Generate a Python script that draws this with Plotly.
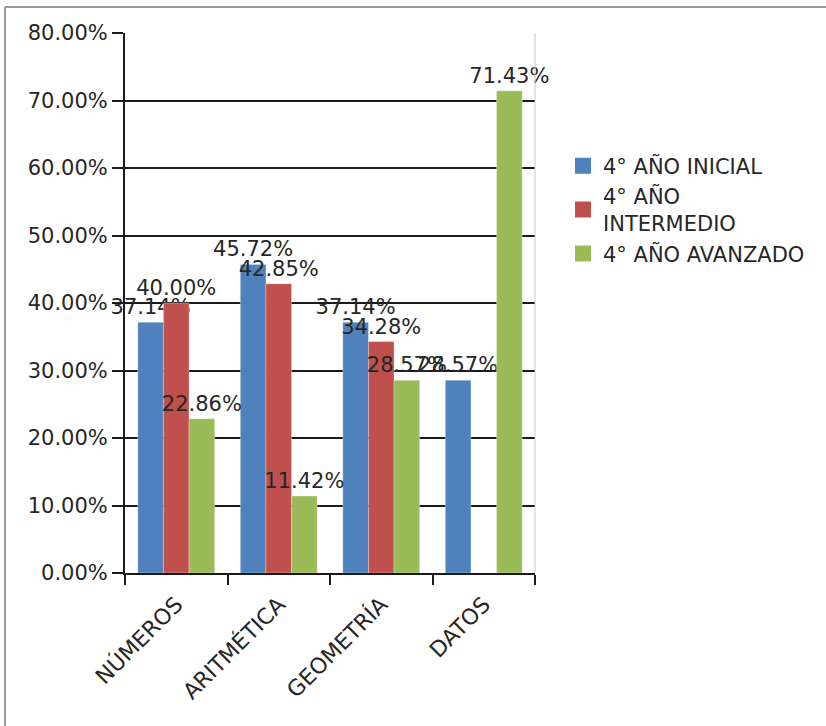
import plotly.graph_objects as go

categories = ["NÚMEROS", "ARITMÉTICA", "GEOMETRÍA", "DATOS"]
series_names = ["4° AÑO INICIAL", "4° AÑO<br>INTERMEDIO", "4° AÑO AVANZADO"]
inicial = [0.3714, 0.4572, 0.3714, 0.2857]
intermedio = [0.4000, 0.4285, 0.3428, None]
avanzado = [0.2286, 0.1142, 0.2857, 0.7143]
colors = ["#4F81BD", "#C0504D", "#9BBB59"]
y_ticks = [0, 0.1, 0.2, 0.3, 0.4, 0.5, 0.6, 0.7, 0.8]

W, H = 826, 726
L, R, T, B = 125, 535, 33, 573

FONT = "DejaVu Sans"
TXT = "#262626"

fig = go.Figure()
for name, vals, col in zip(series_names, [inicial, intermedio, avanzado], colors):
    fig.add_trace(go.Bar(
        x=categories, y=vals, name=name, showlegend=False,
        marker=dict(color=col, line=dict(color="rgba(255,255,255,0.6)", width=0.5)),
        texttemplate="%{y:.2%}", textposition="outside",
        constraintext="none", cliponaxis=False,
        textfont=dict(family=FONT, size=21, color=TXT),
    ))
# legend entries with larger square swatches
for name, col in zip(series_names, colors):
    fig.add_trace(go.Scatter(
        x=[None], y=[None], mode="markers", name=name,
        marker=dict(symbol="square", size=18, color=col),
        hoverinfo="skip",
    ))

def px_x(p):
    return (p - L) / (R - L)

def px_y(p):
    return (B - p) / (B - T)

fig.update_layout(
    width=W, height=H,
    margin=dict(l=L, r=W - R, t=T, b=H - B, pad=0),
    paper_bgcolor="white", plot_bgcolor="white",
    barmode="group", bargap=0.25, bargroupgap=0,
    font=dict(family=FONT, size=21, color=TXT),
    showlegend=True,
    legend=dict(
        x=px_x(563), y=px_y(210), xanchor="left", yanchor="middle",
        font=dict(family=FONT, size=21, color=TXT),
        bgcolor="rgba(0,0,0,0)", tracegroupgap=0, itemsizing="trace",
        borderwidth=0,
    ),
    shapes=[
        dict(type="line", xref="paper", yref="paper",
             x0=px_x(5), x1=px_x(W), y0=px_y(7), y1=px_y(7),
             line=dict(color="#9a9a9a", width=2)),
        dict(type="line", xref="paper", yref="paper",
             x0=px_x(5), x1=px_x(5), y0=px_y(7), y1=px_y(H),
             line=dict(color="#9a9a9a", width=2)),
        dict(type="line", xref="paper", yref="paper",
             x0=1, x1=1, y0=0, y1=1,
             line=dict(color="#c8c8c8", width=1)),
    ],
)

fig.update_yaxes(
    range=[0, 0.8], tickvals=y_ticks, tickformat=".2%",
    showgrid=True, gridcolor="#1a1a1a", gridwidth=2,
    showline=True, linecolor="#1a1a1a", linewidth=2,
    ticks="outside", ticklen=11, tickwidth=2, tickcolor="#1a1a1a",
    tickfont=dict(family=FONT, size=21, color=TXT),
    ticklabelstandoff=0,
    zeroline=False,
)
fig.update_xaxes(
    showline=True, linecolor="#1a1a1a", linewidth=2,
    ticks="outside", ticklen=10, tickwidth=2, tickcolor="#1a1a1a",
    tickson="boundaries", tickangle=-45,
    tickfont=dict(family=FONT, size=22, color=TXT),
    ticklabelstandoff=8,
    showgrid=False,
)

fig.write_html("out.html", config={"displayModeBar": False},
               post_script="document.body.style.margin='0px';")
